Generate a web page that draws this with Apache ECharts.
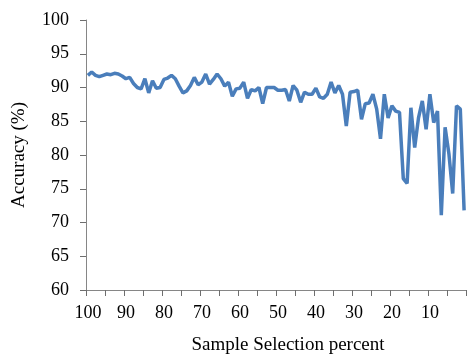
<!DOCTYPE html>
<html>
<head>
    <meta charset="utf-8">
    <title>Accuracy vs Sample Selection percent</title>
    <script src="https://cdn.jsdelivr.net/npm/echarts@6/dist/echarts.min.js"></script>
    <style>
        html, body { margin: 0; padding: 0; background: #fff; }
        #chart1 { width: 467px; height: 360px; }
    </style>
</head>
<body>
<div id="chart1"></div>
<script type="text/javascript">
    // sample selection percent, 100 down to 1
    var percents = [];
    for (var p = 100; p >= 1; p--) { percents.push(String(p)); }

    // accuracy (%), one value per percent
    var accuracy = [
        91.8, 92.3, 91.8, 91.6, 91.8, 92.0, 91.9, 92.1, 92.0, 91.7,
        91.3, 91.5, 90.6, 90.0, 89.8, 91.3, 89.2, 91.0, 89.9, 90.0,
        91.2, 91.4, 91.8, 91.3, 90.2, 89.2, 89.5, 90.3, 91.5, 90.4,
        90.8, 92.0, 90.5, 91.2, 92.0, 91.3, 90.2, 90.8, 88.7, 89.8,
        89.9, 90.8, 88.4, 89.7, 89.5, 90.0, 87.6, 90.0, 90.0, 90.0,
        89.6, 89.6, 89.7, 88.0, 90.3, 89.6, 87.8, 89.3, 89.0, 89.0,
        89.9, 88.6, 88.4, 89.0, 90.8, 89.2, 90.3, 89.0, 84.3, 89.3,
        89.4, 89.6, 85.3, 87.6, 87.7, 89.0, 86.8, 82.4, 89.0, 85.5,
        87.3, 86.5, 86.3, 76.5, 75.8, 87.0, 81.1, 85.5, 88.0, 83.8,
        89.0, 84.8, 86.5, 71.1, 84.1, 80.2, 74.3, 87.3, 86.8, 71.8
    ];

    var serif = '"Liberation Serif", "Times New Roman", serif';
    var axisGray = '#868686';
    var tickGray = '#6e6e6e';

    var myChart1 = echarts.init(document.getElementById('chart1'));
    myChart1.setOption({
        animation: false,
        grid: { left: 86, right: 1, top: 20, bottom: 67 },
        xAxis: {
            type: 'category',
            data: percents,
            boundaryGap: true,
            name: 'Sample Selection percent',
            nameLocation: 'middle',
            nameGap: 46,
            nameTextStyle: { fontFamily: serif, fontSize: 19, color: '#000', padding: [0, 0, 0, 24] },
            axisLine: { show: true, lineStyle: { color: axisGray, width: 1 } },
            // a tick every 5 percent, a label every 10
            axisTick: { show: true, interval: 4, length: 6, lineStyle: { color: tickGray, width: 1 } },
            axisLabel: { interval: 9, margin: 14, fontFamily: serif, fontSize: 18, color: '#000' },
            splitLine: { show: false }
        },
        yAxis: {
            type: 'value',
            min: 60,
            max: 100,
            interval: 5,
            name: 'Accuracy (%)',
            nameLocation: 'middle',
            nameGap: 57,
            nameRotate: 90,
            nameTextStyle: { fontFamily: serif, fontSize: 19, color: '#000' },
            axisLine: { show: true, lineStyle: { color: axisGray, width: 1 } },
            axisTick: { show: true, length: 6, lineStyle: { color: tickGray, width: 1 } },
            axisLabel: { margin: 17, fontFamily: serif, fontSize: 18, color: '#000' },
            splitLine: { show: false }
        },
        series: [
            {
                name: 'Accuracy',
                type: 'line',
                data: accuracy,
                symbol: 'none',
                smooth: false,
                lineStyle: { color: '#4a7ebb', width: 3.5 }
            }
        ]
    });
</script>
</body>
</html>
